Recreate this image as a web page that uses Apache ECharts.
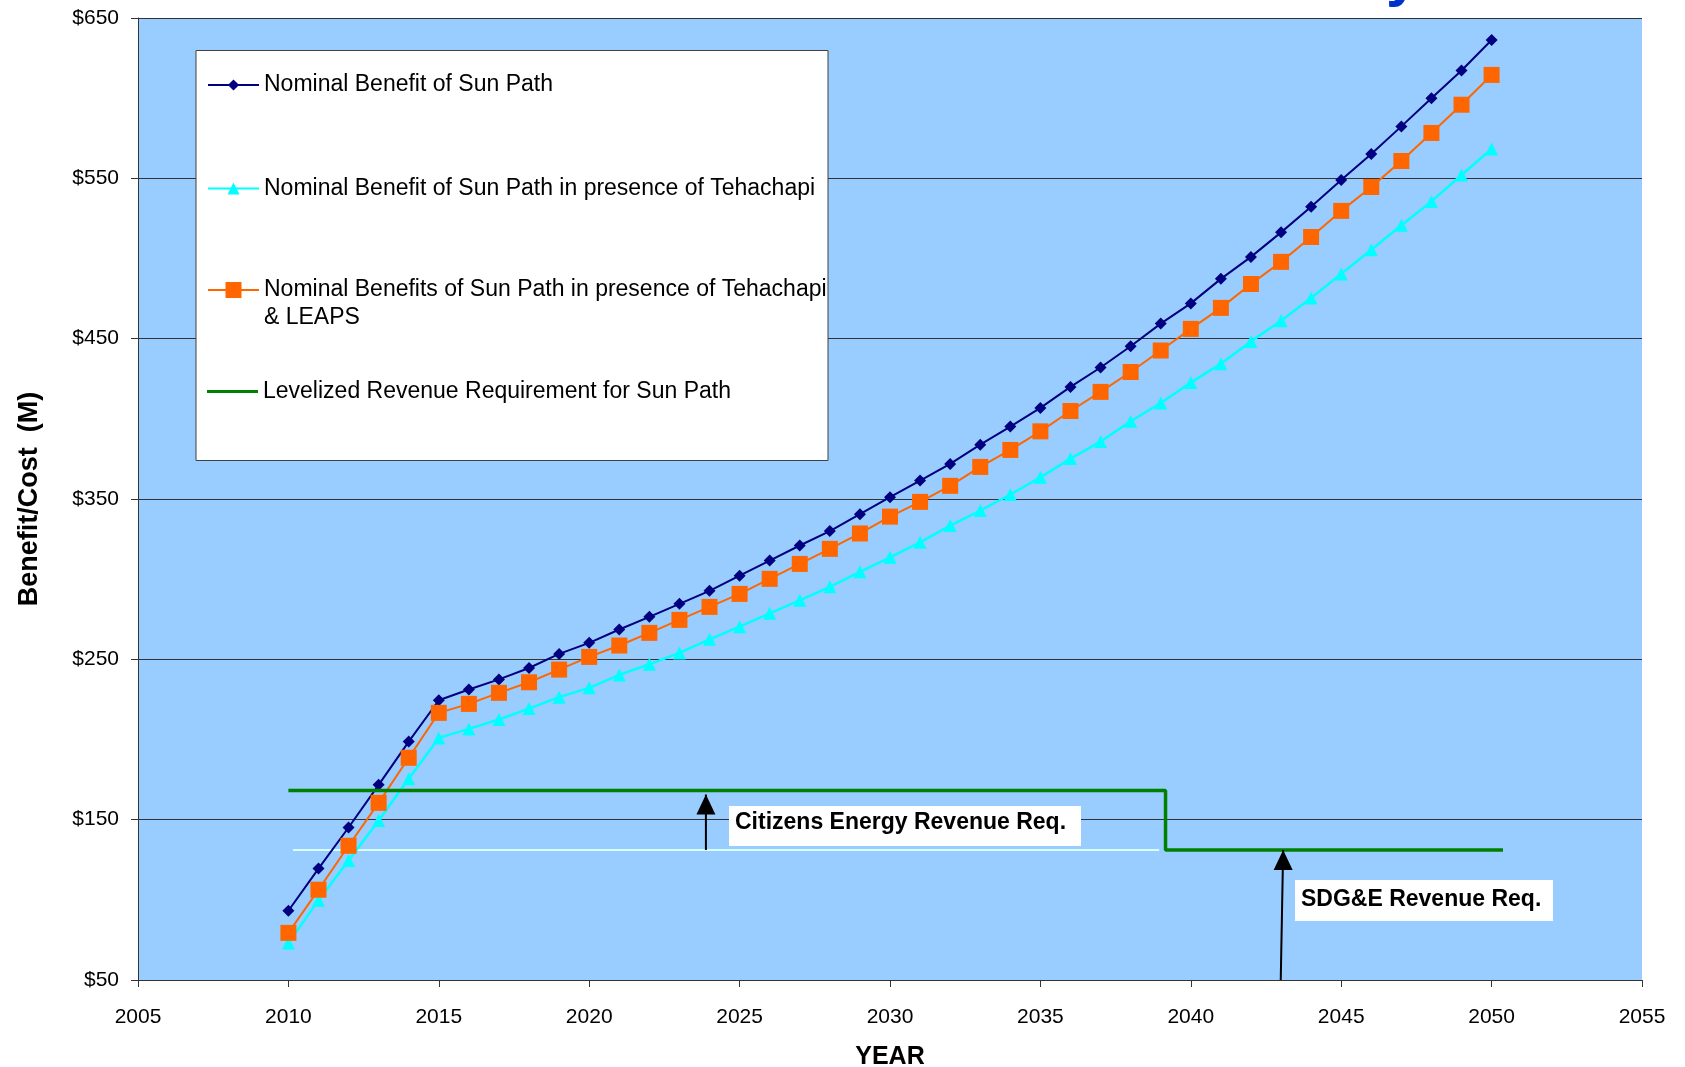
<!DOCTYPE html>
<html>
<head>
<meta charset="utf-8">
<title>Sun Path Benefit/Cost</title>
<script src="https://cdn.jsdelivr.net/npm/echarts@6/dist/echarts.min.js"></script>
<style>
  html, body { margin: 0; padding: 0; background: #ffffff; }
  #chart { width: 1685px; height: 1067px; }
</style>
</head>
<body>
<div id="chart"></div>
<script>
// ---- data ($M per year) ----
const years = [2010, 2011, 2012, 2013, 2014, 2015, 2016, 2017, 2018, 2019,
               2020, 2021, 2022, 2023, 2024, 2025, 2026, 2027, 2028, 2029,
               2030, 2031, 2032, 2033, 2034, 2035, 2036, 2037, 2038, 2039,
               2040, 2041, 2042, 2043, 2044, 2045, 2046, 2047, 2048, 2049, 2050];

const sunPath = [93.2, 119.5, 145.1, 171.7, 198.7, 224.5, 231.2, 237.5, 244.6, 253.4,
                 260.3, 268.6, 276.5, 284.6, 292.7, 302.2, 311.6, 321.0, 330.0, 340.5,
                 351.1, 361.5, 371.9, 383.9, 395.2, 406.8, 419.9, 432.0, 445.3, 459.4,
                 472.0, 487.3, 501.0, 516.3, 532.3, 549.0, 565.2, 582.4, 599.9, 617.3, 636.3];

const sunPathTehachapi = [73.0, 99.8, 124.6, 149.5, 175.5, 201.0, 206.6, 212.5, 219.3, 226.4,
                          232.2, 240.3, 246.9, 254.0, 262.5, 270.4, 278.7, 286.8, 295.2, 304.6,
                          313.6, 323.0, 333.4, 342.8, 352.8, 363.5, 375.2, 385.8, 398.5, 409.9,
                          422.6, 434.4, 448.3, 461.2, 475.4, 490.4, 505.5, 520.7, 535.6, 552.1, 568.3];

const sunPathTehachapiLeaps = [79.4, 106.3, 133.7, 160.5, 188.6, 216.6, 222.2, 229.1, 235.7, 243.6,
                               251.5, 258.6, 266.5, 274.6, 282.7, 290.8, 300.2, 309.5, 318.9, 328.5,
                               339.0, 348.2, 358.2, 370.0, 380.6, 392.2, 404.9, 416.8, 429.2, 442.6,
                               456.1, 469.2, 484.1, 497.9, 513.4, 529.7, 544.6, 560.8, 578.3, 595.9, 614.5];

// levelized revenue requirement: Citizens Energy level, then SDG&E level
const revReqYears  = [2010, 2039.16, 2039.16, 2050.38];
const revReqValues = [168.2, 168.2, 131.1, 131.1];

// reference level under the Citizens Energy requirement
const citizensLevelYears  = [2010.15, 2038.95];
const citizensLevelValues = [131.1, 131.1];

// annotation arrows (tail -> head)
const citizensArrowYears  = [2023.88, 2023.88];
const citizensArrowValues = [131.1, 165.7];
const sdgeArrowYears  = [2042.99, 2043.07];
const sdgeArrowValues = [50, 131.1];

// axis scales
const yearAxisRange  = [2005, 2055];
const yearAxisStep   = 5;
const valueAxisRange = [50, 650];
const valueAxisStep  = 100;

// series / legend text
const NAME_SUN   = 'Nominal Benefit of Sun Path';
const NAME_TEH   = 'Nominal Benefit of Sun Path in presence of Tehachapi';
const NAME_LEAPS_1 = 'Nominal Benefits of Sun Path in presence of Tehachapi';
const NAME_LEAPS_2 = '& LEAPS';
const NAME_LEAPS = NAME_LEAPS_1 + ' ' + NAME_LEAPS_2;
const NAME_REQ   = 'Levelized Revenue Requirement for Sun Path';
const LABEL_CITIZENS = 'Citizens Energy Revenue Req.';
const LABEL_SDGE     = 'SDG&E Revenue Req.';

// ---- helpers ----
const FONT = '"Liberation Sans", Arial, Helvetica, sans-serif';
const zip = (xs, ys) => xs.map((x, i) => [x, ys[i]]);
function arrowData(xs, ys) {
  return xs.map((x, i) => i === xs.length - 1
    ? { value: [x, ys[i]], symbol: 'triangle', symbolSize: [19, 20], symbolOffset: [0, 10] }
    : { value: [x, ys[i]], symbol: 'none' });
}
function legendFor(name, top, itemHeight, extra) {
  return Object.assign({
    data: [name],
    left: 207,
    top: top,
    orient: 'horizontal',
    itemWidth: 51,
    itemHeight: itemHeight,
    padding: 0,
    selectedMode: false,
    z: 10,
    textStyle: { fontFamily: FONT, fontSize: 23, color: '#000000' }
  }, extra || {});
}

const chart = echarts.init(document.getElementById('chart'), null, { renderer: 'canvas' });

const option = {
  animation: false,
  backgroundColor: '#ffffff',
  textStyle: { fontFamily: FONT },
  grid: {
    left: 138, right: 43, top: 18, bottom: 87,
    outerBoundsMode: 'none',
    show: true, backgroundColor: '#99ccff', borderWidth: 0
  },
  xAxis: {
    type: 'value',
    min: yearAxisRange[0], max: yearAxisRange[1], interval: yearAxisStep,
    name: 'YEAR', nameLocation: 'middle', nameGap: 65,
    nameTextStyle: { fontFamily: FONT, fontSize: 25, fontWeight: 'bold', color: '#000' },
    axisLine: { show: true, lineStyle: { color: '#333333', width: 1 } },
    axisTick: { show: true, length: 7, lineStyle: { color: '#333333' } },
    axisLabel: { fontFamily: FONT, fontSize: 21, color: '#000', margin: 27,
                 formatter: v => String(v) },
    splitLine: { show: false }
  },
  yAxis: {
    type: 'value',
    min: valueAxisRange[0], max: valueAxisRange[1], interval: valueAxisStep,
    name: 'Benefit/Cost  (M)', nameLocation: 'middle', nameGap: 95,
    nameTextStyle: { fontFamily: FONT, fontSize: 27, fontWeight: 'bold', color: '#000' },
    axisLine: { show: true, lineStyle: { color: '#333333', width: 1 } },
    axisTick: { show: true, length: 7, lineStyle: { color: '#333333' } },
    axisLabel: { fontFamily: FONT, fontSize: 21, color: '#000', margin: 19,
                 formatter: v => '$' + v },
    splitLine: { show: true, lineStyle: { color: '#333333', width: 1 } }
  },
  legend: [
    legendFor(NAME_SUN, 73.5, 14),
    legendFor(NAME_TEH, 177, 15),
    legendFor(NAME_LEAPS, 278.5, 20, { formatter: () => NAME_LEAPS_1 }),
    legendFor(NAME_REQ, 380, 3, { data: [{ name: NAME_REQ, icon: 'rect' }] })
  ],
  graphic: [
    { // legend frame
      type: 'rect', z: 5,
      shape: { x: 196, y: 50.5, width: 632, height: 410 },
      style: { fill: '#ffffff', stroke: '#404040', lineWidth: 1 }
    },
    { // second line of the third legend entry
      type: 'text', z: 11,
      style: { x: 264, y: 318, text: NAME_LEAPS_2, font: '23px ' + FONT,
               fill: '#000', verticalAlign: 'middle' }
    },
    { // Citizens Energy callout
      type: 'rect', z: 11,
      shape: { x: 729, y: 806, width: 352, height: 40 },
      style: { fill: '#ffffff' }
    },
    {
      type: 'text', z: 12,
      style: { x: 735, y: 823, text: LABEL_CITIZENS, font: 'bold 23px ' + FONT,
               fill: '#000', verticalAlign: 'middle' }
    },
    { // SDG&E callout
      type: 'rect', z: 11,
      shape: { x: 1295, y: 880, width: 258, height: 41 },
      style: { fill: '#ffffff' }
    },
    {
      type: 'text', z: 12,
      style: { x: 1301, y: 900, text: LABEL_SDGE, font: 'bold 23px ' + FONT,
               fill: '#000', verticalAlign: 'middle' }
    },
    { // descender of the page heading running in from above
      type: 'text', z: 1,
      style: { x: 1386, y: 8, text: 'y', font: 'bold 60px ' + FONT,
               fill: '#0033cc', verticalAlign: 'bottom' }
    }
  ],
  series: [
    {
      name: NAME_SUN, type: 'line', z: 3,
      data: zip(years, sunPath),
      symbol: 'diamond', symbolSize: 12,
      lineStyle: { color: '#000080', width: 2 },
      itemStyle: { color: '#000080' }
    },
    {
      name: NAME_TEH, type: 'line', z: 3,
      data: zip(years, sunPathTehachapi),
      symbol: 'triangle', symbolSize: 13,
      lineStyle: { color: '#00ffff', width: 2.5 },
      itemStyle: { color: '#00ffff' }
    },
    {
      name: NAME_LEAPS, type: 'line', z: 4,
      data: zip(years, sunPathTehachapiLeaps),
      symbol: 'rect', symbolSize: 16,
      lineStyle: { color: '#ff6600', width: 2 },
      itemStyle: { color: '#ff6600' }
    },
    {
      name: NAME_REQ, type: 'line', z: 5,
      data: zip(revReqYears, revReqValues),
      symbol: 'none',
      lineStyle: { color: '#008000', width: 3.5 },
      itemStyle: { color: '#008000' }
    },
    {
      name: 'Citizens Energy level', type: 'line', z: 2,
      data: zip(citizensLevelYears, citizensLevelValues),
      symbol: 'none',
      lineStyle: { color: '#d8ffff', width: 2 }
    },
    {
      name: 'Citizens arrow', type: 'line', z: 6,
      data: arrowData(citizensArrowYears, citizensArrowValues),
      lineStyle: { color: '#000000', width: 2 },
      itemStyle: { color: '#000000' }
    },
    {
      name: 'SDG&E arrow', type: 'line', z: 6,
      data: arrowData(sdgeArrowYears, sdgeArrowValues),
      lineStyle: { color: '#000000', width: 2 },
      itemStyle: { color: '#000000' }
    }
  ]
};

chart.setOption(option);
</script>
</body>
</html>
